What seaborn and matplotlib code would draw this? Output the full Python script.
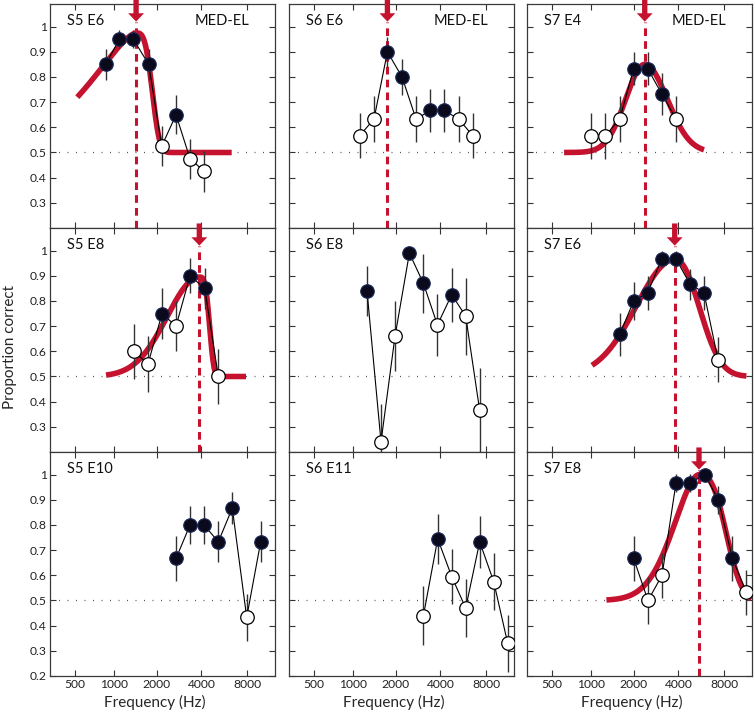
import numpy as np
import pandas as pd
import matplotlib
matplotlib.use("Agg")
import matplotlib.pyplot as plt
import seaborn as sns

# 各パネルのデータ (周波数 Hz, 正答率, 誤差, 塗りつぶし=1)
s5e6_freq = [869, 1093, 1377, 1764, 2166, 2708, 3361, 4181]
s5e6_pc = [0.85, 0.95, 0.95, 0.85, 0.525, 0.65, 0.475, 0.425]
s5e6_err = [0.06, 0.035, 0.035, 0.06, 0.08, 0.077, 0.08, 0.08]
s5e6_filled = [1, 1, 1, 1, 0, 1, 0, 0]

s6e6_freq = [1119, 1415, 1755, 2211, 2751, 3434, 4226, 5281, 6522]
s6e6_pc = [0.567, 0.633, 0.9, 0.8, 0.633, 0.667, 0.667, 0.633, 0.567]
s6e6_err = [0.09, 0.09, 0.06, 0.073, 0.09, 0.087, 0.087, 0.09, 0.09]
s6e6_filled = [0, 0, 1, 1, 0, 1, 1, 0, 0]

s7e4_freq = [1007, 1271, 1602, 2001, 2493, 3098, 3856]
s7e4_pc = [0.567, 0.567, 0.633, 0.833, 0.833, 0.733, 0.633]
s7e4_err = [0.091, 0.091, 0.09, 0.066, 0.066, 0.083, 0.09]
s7e4_filled = [0, 0, 0, 1, 1, 1, 0]

s5e8_freq = [1386, 1744, 2177, 2708, 3361, 4208, 5172]
s5e8_pc = [0.6, 0.55, 0.75, 0.7, 0.9, 0.85, 0.5]
s5e8_err = [0.11, 0.11, 0.1, 0.1, 0.07, 0.08, 0.11]
s5e8_filled = [0, 0, 1, 0, 1, 1, 0]

s6e8_freq = [1262, 1584, 1980, 2481, 3083, 3822, 4750, 5870, 7246]
s6e8_pc = [0.84, 0.24, 0.66, 0.99, 0.87, 0.705, 0.825, 0.74, 0.365]
s6e8_err = [0.1, 0.15, 0.138, 0.0, 0.118, 0.123, 0.108, 0.153, 0.17]
s6e8_filled = [1, 0, 0, 1, 1, 0, 1, 0, 0]

s7e6_freq = [1602, 2001, 2493, 3098, 3856, 4772, 5895, 7278]
s7e6_pc = [0.667, 0.8, 0.833, 0.967, 0.967, 0.867, 0.833, 0.567]
s7e6_err = [0.087, 0.074, 0.067, 0.03, 0.03, 0.062, 0.067, 0.09]
s7e6_filled = [1, 1, 1, 1, 1, 1, 1, 0]

s5e10_freq = [2708, 3361, 4166, 5172, 6386, 7928, 9775]
s5e10_pc = [0.667, 0.8, 0.8, 0.733, 0.867, 0.433, 0.733]
s5e10_err = [0.088, 0.074, 0.074, 0.082, 0.063, 0.092, 0.082]
s5e10_filled = [1, 1, 1, 1, 1, 0, 1]

s6e11_freq = [3083, 3839, 4750, 5870, 7246, 8938, 11014]
s6e11_pc = [0.44, 0.745, 0.595, 0.47, 0.733, 0.575, 0.33]
s6e11_err = [0.117, 0.1, 0.11, 0.115, 0.102, 0.113, 0.113]
s6e11_filled = [0, 1, 0, 0, 1, 0, 0]

s7e8_freq = [2001, 2504, 3113, 3856, 4772, 5960, 7322, 9031, 11130]
s7e8_pc = [0.667, 0.5, 0.6, 0.967, 0.967, 1.0, 0.9, 0.667, 0.533]
s7e8_err = [0.088, 0.092, 0.09, 0.035, 0.035, 0.0, 0.056, 0.088, 0.09]
s7e8_filled = [1, 0, 0, 1, 1, 1, 1, 1, 0]

# フィット: [最良周波数, ピーク, 左幅, 左指数, 右幅, 右指数, 開始Hz, 終了Hz] (幅は蝸牛位置の単位)
s5e6_fit = [1440, 0.975, 0.447, 1.5, 0.117, 3.3, 522, 6328]
s6e6_best = 1755
s7e4_fit = [2380, 0.85, 0.1725, 2.0, 0.203, 2.0, 625, 5895]
s5e8_fit = [3875, 0.895, 0.289, 2.0, 0.0735, 3.5, 873, 7845]
s7e6_fit = [3781, 0.965, 0.345, 2.0, 0.211, 2.2, 1017, 11130]
s7e8_fit = [5468, 1.0, 0.23, 1.8, 0.206, 2.8, 1292, 12100]

panel_names = ["S5 E6", "S6 E6", "S7 E4", "S5 E8", "S6 E8", "S7 E6", "S5 E10", "S6 E11", "S7 E8"]
freq_ticks = [500, 1000, 2000, 4000, 8000]

RED = "#c4122f"
NAVY = "#0a0a1c"


def greenwood(f):
    f = np.asarray(f, dtype=float)
    with np.errstate(invalid="ignore", divide="ignore"):
        return np.log10(f / 165.4 + 0.88)


def greenwood_inv(u):
    return 165.4 * (10 ** np.asarray(u, dtype=float) - 0.88)


panels = [
    (s5e6_freq, s5e6_pc, s5e6_err, s5e6_filled, s5e6_fit, None),
    (s6e6_freq, s6e6_pc, s6e6_err, s6e6_filled, None, s6e6_best),
    (s7e4_freq, s7e4_pc, s7e4_err, s7e4_filled, s7e4_fit, None),
    (s5e8_freq, s5e8_pc, s5e8_err, s5e8_filled, s5e8_fit, None),
    (s6e8_freq, s6e8_pc, s6e8_err, s6e8_filled, None, None),
    (s7e6_freq, s7e6_pc, s7e6_err, s7e6_filled, s7e6_fit, None),
    (s5e10_freq, s5e10_pc, s5e10_err, s5e10_filled, None, None),
    (s6e11_freq, s6e11_pc, s6e11_err, s6e11_filled, None, None),
    (s7e8_freq, s7e8_pc, s7e8_err, s7e8_filled, s7e8_fit, None),
]

sns.set_style("ticks")
plt.rcParams.update({
    "font.family": ["Lato", "DejaVu Sans"],
    "xtick.direction": "in", "ytick.direction": "in",
    "xtick.top": True, "ytick.right": True,
    "xtick.major.size": 4, "ytick.major.size": 4,
    "xtick.major.width": 0.8, "ytick.major.width": 0.8,
    "xtick.color": "#333333", "ytick.color": "#333333",
    "xtick.labelcolor": "#222222", "ytick.labelcolor": "#222222",
    "axes.edgecolor": "#3a3a3a", "axes.linewidth": 0.9,
})

fig = plt.figure(figsize=(7.55, 7.14), dpi=100)
lefts = [50, 289, 527]
tops = [4, 228, 452]

for i, (freq, pc, err, filled, fit, best) in enumerate(panels):
    r, c = divmod(i, 3)
    ax = fig.add_axes([lefts[c] / 755, 1 - (tops[r] + 224) / 714, 225 / 755, 224 / 714])
    ax.set_xscale("function", functions=(greenwood, greenwood_inv))
    ax.set_xlim(301, 12100)
    ax.set_ylim(0.2, 1.09)

    ax.axhline(0.5, color="#555555", lw=0.9, ls=(0, (0.8, 6)), zorder=1)

    if fit is not None:
        fc, peak, sl, pl, sr, pr, flo, fhi = fit
        u = np.linspace(greenwood(flo), greenwood(fhi), 400)
        d = u - greenwood(fc)
        s = np.where(d < 0, sl, sr)
        p = np.where(d < 0, pl, pr)
        yfit = 0.5 + (peak - 0.5) * np.exp(-(np.abs(d) / s) ** p)
        sns.lineplot(x=greenwood_inv(u), y=yfit, ax=ax, color=RED, lw=4.0,
                     sort=False, estimator=None, zorder=2, solid_capstyle="butt")
        best = fc

    if best is not None:
        ax.plot([best, best], [0.2, 1.02], color=RED, lw=2.2, dashes=(2.5, 1.7), zorder=2)
        ax.annotate("", xy=(best, 1.02), xytext=(best, 1.108),
                    arrowprops=dict(arrowstyle="simple,head_length=0.5,head_width=0.95,tail_width=0.32",
                                    color=RED, lw=0, mutation_scale=12, shrinkA=0, shrinkB=0),
                    annotation_clip=False, zorder=6)

    df = pd.DataFrame({"freq": freq, "pc": pc, "err": err, "filled": filled})
    ax.errorbar(df["freq"], df["pc"], yerr=df["err"], fmt="none", ecolor="#333333",
                elinewidth=1.0, capsize=0, zorder=3)
    sns.lineplot(data=df, x="freq", y="pc", ax=ax, color="black", lw=0.8,
                 sort=False, estimator=None, zorder=3)
    sns.scatterplot(data=df[df["filled"] == 1], x="freq", y="pc", ax=ax, color=NAVY,
                    edgecolor="#1c2a58", linewidth=0.8, s=95, zorder=4, legend=False)
    sns.scatterplot(data=df[df["filled"] == 0], x="freq", y="pc", ax=ax, color="white",
                    edgecolor="black", linewidth=0.9, s=95, zorder=4, legend=False)

    ax.text(0.075, 0.923, panel_names[i], transform=ax.transAxes, va="center",
            ha="left", fontsize=10.5, color="#111111")
    if r == 0:
        ax.text(0.885, 0.923, "MED-EL", transform=ax.transAxes, va="center",
                ha="right", fontsize=10.5, color="#111111")

    ax.set_xticks(freq_ticks)
    ax.minorticks_off()
    yt = [0.2, 0.3, 0.4, 0.5, 0.6, 0.7, 0.8, 0.9, 1.0] if r == 2 else [0.3, 0.4, 0.5, 0.6, 0.7, 0.8, 0.9, 1.0]
    ax.set_yticks(yt)
    if c == 0:
        ax.set_yticklabels([f"{v:g}" for v in yt])
    else:
        ax.set_yticklabels([])
    if r == 2:
        ax.set_xticklabels([str(v) for v in freq_ticks])
        ax.set_xlabel("Frequency (Hz)", fontsize=11)
        ax.xaxis.set_label_coords(0.465, -0.083)
    else:
        ax.set_xticklabels([])
        ax.set_xlabel("")
    ax.set_ylabel("")
    ax.tick_params(axis="both", labelsize=8.7, pad=2.5)
    for sp in ax.spines.values():
        sp.set_visible(True)

fig.text(0.0135, 0.514, "Proportion correct", rotation=90, va="center", ha="center", fontsize=11)

fig.savefig("out.png", dpi=100)
